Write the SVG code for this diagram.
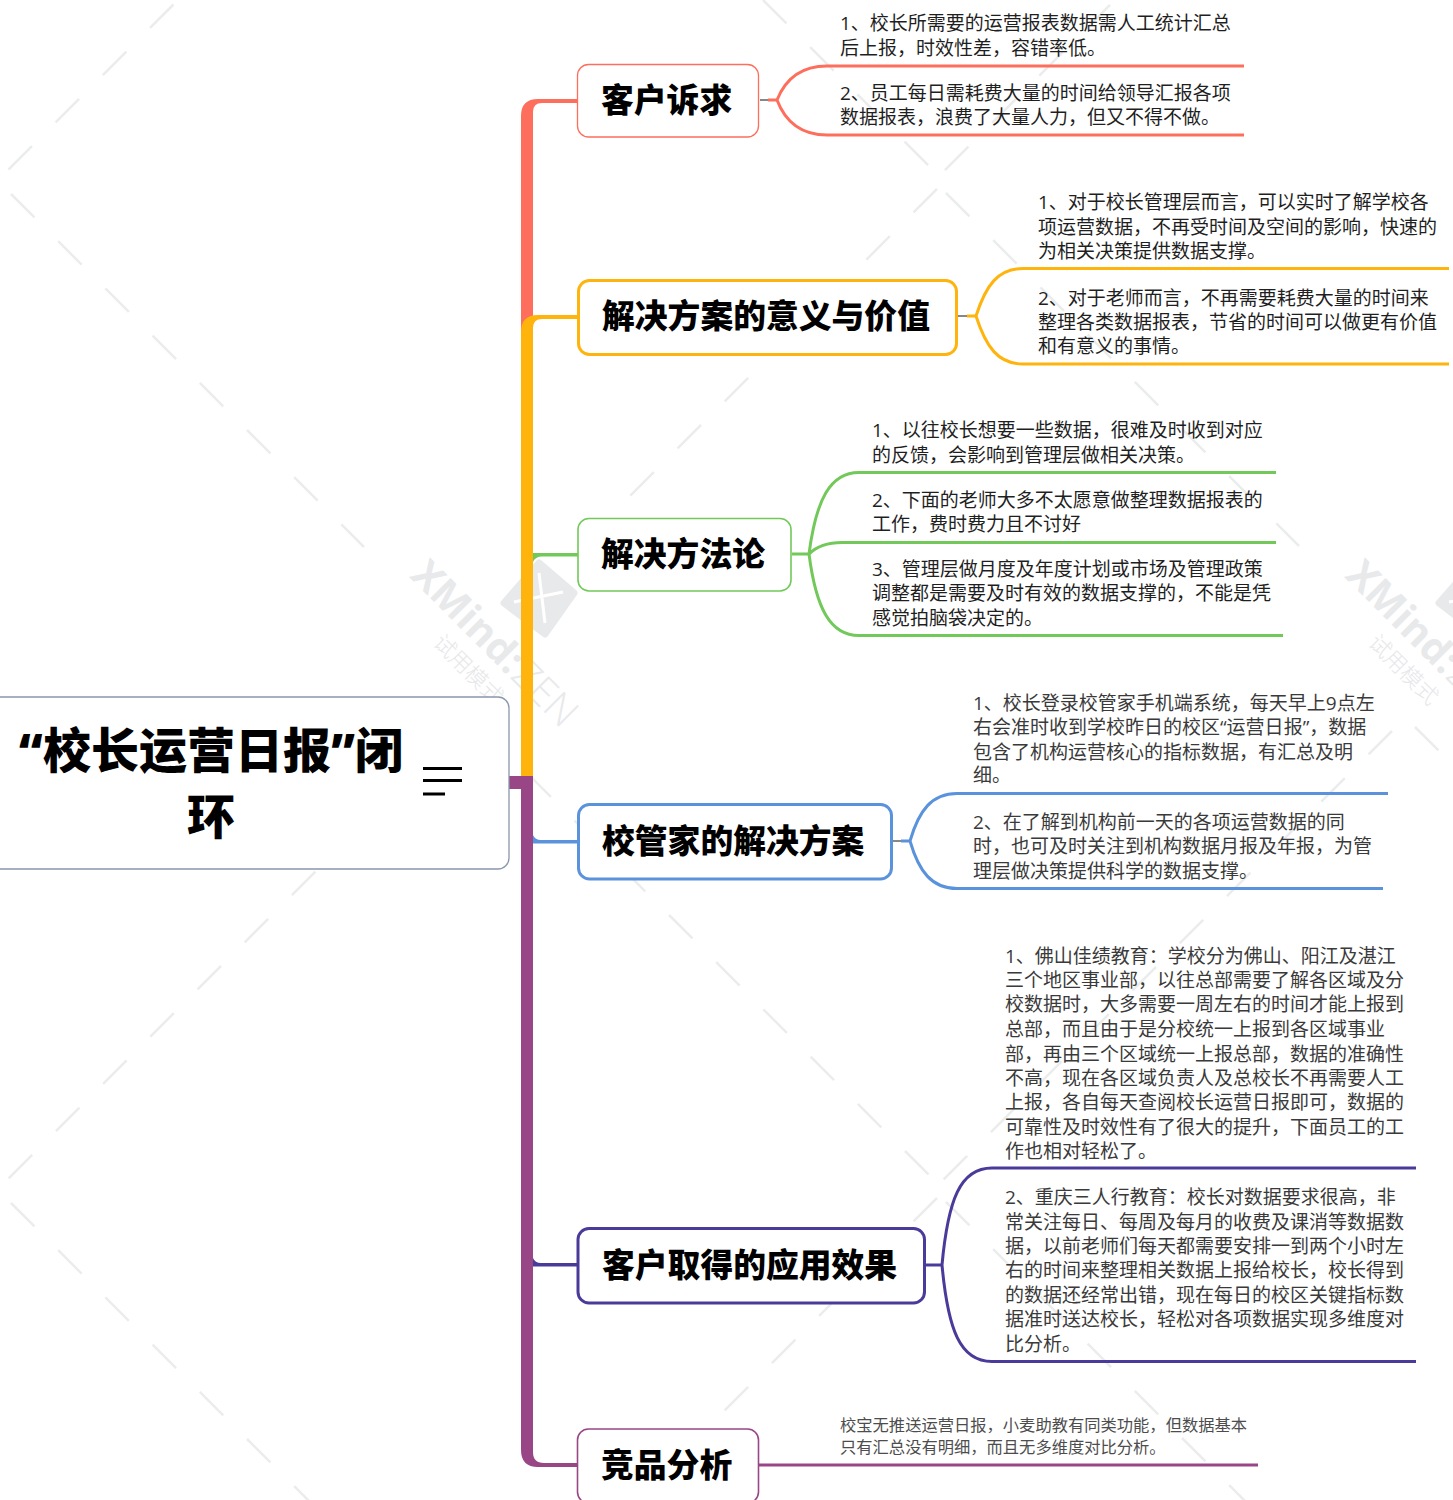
<svg xmlns="http://www.w3.org/2000/svg" width="1453" height="1500" viewBox="0 0 1453 1500">
<style>
text{font-family:"Open Sans","Noto Sans CJK SC",sans-serif}
.b{font-size:19px;fill:#1f1f1f;letter-spacing:0}
.g{fill:#3a3a3a}
.s{font-size:16.3px;fill:#4d4d4d}
.t{font-size:32.800px;font-weight:900;fill:#000;font-family:"Noto Sans CJK SC",sans-serif}
.r{font-size:48px;font-weight:900;fill:#000;text-anchor:middle}
.n{fill:#fff}
.c{fill:none;stroke-width:3}
.d{stroke:#ebecec;stroke-width:2.5;stroke-dasharray:33.2 33.55;fill:none}
.wm{font-size:40px;fill:#e8e9eb}
.wc{font-size:22px;fill:#e6e7e9;font-weight:300;font-family:"Noto Sans CJK SC",sans-serif}
.notes{transform:translateY(0.8px)}
</style>
<defs>
<g id="mark">
<text class="wm" transform="translate(409 577) rotate(45)"><tspan font-weight="700">XMind:</tspan><tspan font-weight="300" dx="2">ZEN</tspan></text>
<text class="wc" transform="translate(432 644) rotate(45)">试用模式</text>
<path d="M539 563L504 603L545 634L574 593Z" fill="#e8e9eb" stroke="#e8e9eb" stroke-width="7" stroke-linejoin="round"/>
<path d="M539 573L545 623M514 602L563 592" stroke="#fff" stroke-width="3" fill="none"/>
</g>
</defs>
<g id="watermark">
<path class="d" d="M11 194L364 547"/>
<path class="d" d="M11 1203L364 1556"/>
<path class="d" d="M946 193L1299 546"/>
<path class="d" d="M946 1202L1299 1555"/>
<path class="d" d="M480.2 726.2L929 1175"/>
<path class="d" d="M763 0L929 166"/>
<path class="d" d="M1415 727L1500 812"/>
<path class="d" d="M173.5 4.5L8 170"/>
<path class="d" d="M457 730L8 1179"/>
<path class="d" d="M1110 5L944 171"/>
<path class="d" d="M1392 731L943 1180"/>
<path class="d" d="M937 189L584 542"/>
<path class="d" d="M937 1198L584 1551"/>
<use href="#mark"/>
<use href="#mark" x="935"/>
</g>
<g id="connectors">
<path fill="#fe6e5c" d="M578 99H538Q521 99 521 116V780H533V112Q533 103 542 103H578Z"/>
<path fill="#ffb30d" d="M578 315H538Q521 315 521 332V780H533V328Q533 319 542 319H578Z"/>
<path fill="#72c95a" d="M533 553H578V556.500H541Q535 557 533 562Z"/>
<path fill="#5a92dc" d="M533 835Q535 840 541 840H578V843.500H533Z"/>
<path fill="#4a3a99" d="M533 1258Q535 1263 541 1263H578V1266.500H533Z"/>
<path fill="#984686" d="M509 776H533V1452Q533 1463 544 1463H578V1467H538Q521 1467 521 1450V789H509Z"/>
<g class="c">
<path stroke="#fe6e5c" d="M1244 66H827C800 66 785 80 777 100C785 121 800 135 827 135H1244"/>
<path stroke="#fe6e5c" d="M768 100H777"/>
<path stroke="#ffb30d" d="M1449 268.500H1023C998 268.500 986 285 976 316C986 347 998 364 1023 364H1449"/>
<path stroke="#ffb30d" d="M967 316H976"/>
<path stroke="#72c95a" d="M1276 472.500H859C830 472.500 816 500 809 554C816 608 830 635.500 859 635.500H1283"/>
<path stroke="#72c95a" d="M1276 542.500H842C825 542.500 815 548 809 554H792"/>
<path stroke="#5a92dc" d="M1388 793.500H957C932 793.500 919 810 910 841C919 872 932 888.500 957 888.500H1383"/>
<path stroke="#5a92dc" d="M901 841H910"/>
<path stroke="#4a3a99" d="M1416 1168H992C960 1168 948 1200 942 1265C948 1330 960 1361.500 992 1361.500H1416"/>
<path stroke="#4a3a99" d="M925 1265H942"/>
<path stroke="#984686" d="M759 1465H1258"/>
</g>
<path stroke="#111" stroke-width="1.200" d="M760 100H768M958 316H967M893 841H901"/>
</g>
<g id="root">
<rect class="n" x="-20" y="697" width="529" height="172" rx="11" stroke="#8b97ad" stroke-width="1.300"/>
<text class="r" x="211" y="768">“校长运营日报”闭</text>
<text class="r" x="211" y="834">环</text>
<path d="M423 768.500H462M423 780.500H462M423 794H445" stroke="#000" stroke-width="3.200"/>
</g>
<g id="n1">
<rect class="n" x="577.500" y="64.500" width="181" height="72.500" rx="11" stroke="#fe6e5c" stroke-width="1.300"/>
<text class="t" x="601" y="112">客户诉求</text>
</g>
<g id="n1-notes" class="notes">
<text class="b" x="840" y="29">1、校长所需要的运营报表数据需人工统计汇总</text>
<text class="b" x="840" y="54">后上报，时效性差，容错率低。</text>
<text class="b" x="840" y="99">2、员工每日需耗费大量的时间给领导汇报各项</text>
<text class="b" x="840" y="123">数据报表，浪费了大量人力，但又不得不做。</text>
</g>
<g id="n2">
<rect class="n" x="578.500" y="280.500" width="378" height="74" rx="11" stroke="#ffb30d" stroke-width="3"/>
<text class="t" x="602" y="328">解决方案的意义与价值</text>
</g>
<g id="n2-notes" class="notes">
<text class="b" x="1038" y="208">1、对于校长管理层而言，可以实时了解学校各</text>
<text class="b" x="1038" y="233">项运营数据，不再受时间及空间的影响，快速的</text>
<text class="b" x="1038" y="257">为相关决策提供数据支撑。</text>
<text class="b" x="1038" y="304">2、对于老师而言，不再需要耗费大量的时间来</text>
<text class="b" x="1038" y="328">整理各类数据报表，节省的时间可以做更有价值</text>
<text class="b" x="1038" y="352">和有意义的事情。</text>
</g>
<g id="n3">
<rect class="n" x="578" y="518.500" width="213" height="72.500" rx="11" stroke="#72c95a" stroke-width="1.600"/>
<text class="t" x="601" y="566">解决方法论</text>
</g>
<g id="n3-notes" class="notes">
<text class="b" x="872" y="436">1、以往校长想要一些数据，很难及时收到对应</text>
<text class="b" x="872" y="461">的反馈，会影响到管理层做相关决策。</text>
<text class="b" x="872" y="506">2、下面的老师大多不太愿意做整理数据报表的</text>
<text class="b" x="872" y="530">工作，费时费力且不讨好</text>
<text class="b" x="872" y="575">3、管理层做月度及年度计划或市场及管理政策</text>
<text class="b" x="872" y="599">调整都是需要及时有效的数据支撑的，不能是凭</text>
<text class="b" x="872" y="624">感觉拍脑袋决定的。</text>
</g>
<g id="n4">
<rect class="n" x="578.500" y="804.500" width="313" height="74.500" rx="11" stroke="#5a92dc" stroke-width="3"/>
<text class="t" x="602" y="853">校管家的解决方案</text>
</g>
<g id="n4-notes" class="notes">
<text class="b g" x="973" y="709">1、校长登录校管家手机端系统，每天早上9点左</text>
<text class="b g" x="973" y="733">右会准时收到学校昨日的校区“运营日报”，数据</text>
<text class="b g" x="973" y="758">包含了机构运营核心的指标数据，有汇总及明</text>
<text class="b g" x="973" y="781">细。</text>
<text class="b g" x="973" y="828">2、在了解到机构前一天的各项运营数据的同</text>
<text class="b g" x="973" y="852">时，也可及时关注到机构数据月报及年报，为管</text>
<text class="b g" x="973" y="877">理层做决策提供科学的数据支撑。</text>
</g>
<g id="n5">
<rect class="n" x="578" y="1228.500" width="346.500" height="74.500" rx="11" stroke="#4a3a99" stroke-width="3"/>
<text class="t" x="602" y="1277">客户取得的应用效果</text>
</g>
<g id="n5-notes" class="notes">
<text class="b g" x="1005" y="962">1、佛山佳绩教育：学校分为佛山、阳江及湛江</text>
<text class="b g" x="1005" y="986">三个地区事业部，以往总部需要了解各区域及分</text>
<text class="b g" x="1005" y="1010">校数据时，大多需要一周左右的时间才能上报到</text>
<text class="b g" x="1005" y="1035">总部，而且由于是分校统一上报到各区域事业</text>
<text class="b g" x="1005" y="1060">部，再由三个区域统一上报总部，数据的准确性</text>
<text class="b g" x="1005" y="1084">不高，现在各区域负责人及总校长不再需要人工</text>
<text class="b g" x="1005" y="1108">上报，各自每天查阅校长运营日报即可，数据的</text>
<text class="b g" x="1005" y="1133">可靠性及时效性有了很大的提升，下面员工的工</text>
<text class="b g" x="1005" y="1157">作也相对轻松了。</text>
<text class="b g" x="1005" y="1203">2、重庆三人行教育：校长对数据要求很高，非</text>
<text class="b g" x="1005" y="1228">常关注每日、每周及每月的收费及课消等数据数</text>
<text class="b g" x="1005" y="1252">据，以前老师们每天都需要安排一到两个小时左</text>
<text class="b g" x="1005" y="1276">右的时间来整理相关数据上报给校长，校长得到</text>
<text class="b g" x="1005" y="1301">的数据还经常出错，现在每日的校区关键指标数</text>
<text class="b g" x="1005" y="1325">据准时送达校长，轻松对各项数据实现多维度对</text>
<text class="b g" x="1005" y="1350">比分析。</text>
</g>
<g id="n6">
<rect class="n" x="577.500" y="1429" width="181" height="74" rx="11" stroke="#984686" stroke-width="1.600"/>
<text class="t" x="601" y="1477">竞品分析</text>
</g>
<g id="n6-notes">
<text class="s" x="840" y="1431">校宝无推送运营日报，小麦助教有同类功能，但数据基本</text>
<text class="s" x="840" y="1453">只有汇总没有明细，而且无多维度对比分析。</text>
</g>
</svg>
